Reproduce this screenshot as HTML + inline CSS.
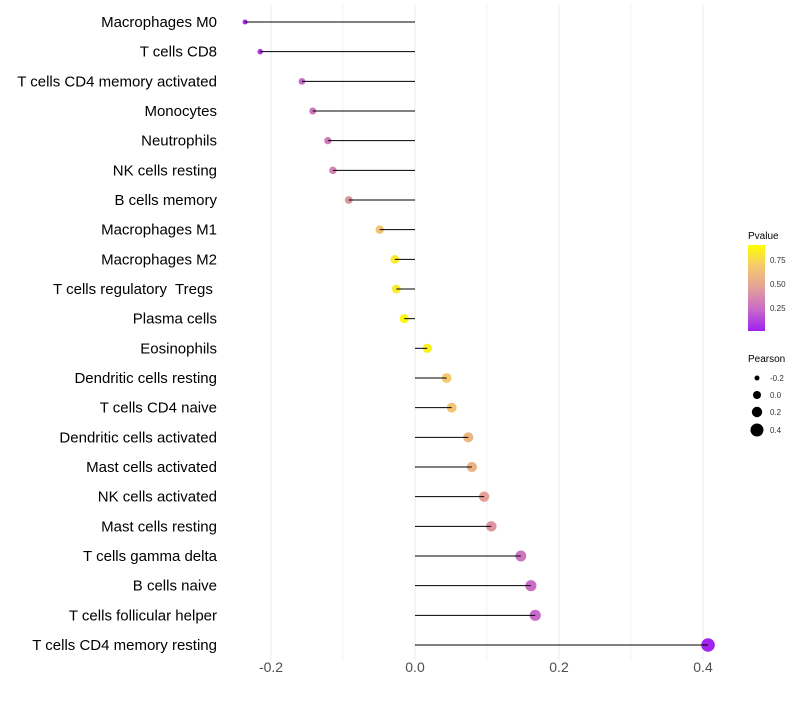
<!DOCTYPE html>
<html><head><meta charset="utf-8"><style>
body{margin:0;background:#fff;font-family:"Liberation Sans",sans-serif}
svg text{font-family:"Liberation Sans",sans-serif;white-space:pre}
</style></head><body>
<svg id="chart" width="800" height="700" xmlns="http://www.w3.org/2000/svg">
<defs><linearGradient id="pg" x1="0" y1="1" x2="0" y2="0">
<stop offset="0" stop-color="#a020f0"/><stop offset="0.25" stop-color="#c86ac8"/><stop offset="0.5" stop-color="#e2a098"/><stop offset="0.75" stop-color="#f4c870"/><stop offset="1" stop-color="#ffff00"/>
</linearGradient></defs>
<g id="grid"></g><g id="points"></g><g id="stems"></g><g id="labels"></g>
<g>
<text x="748" y="239" font-size="10" fill="#000">Pvalue</text>
<rect x="748" y="245" width="17" height="86" fill="url(#pg)"/>
<text x="770" y="263" font-size="8" fill="#333">0.75</text>
<text x="770" y="287" font-size="8" fill="#333">0.50</text>
<text x="770" y="311" font-size="8" fill="#333">0.25</text>
</g>
<g>
<text x="748" y="362" font-size="10" fill="#000">Pearson</text>
<circle cx="757" cy="378" r="2.5"/><text x="770" y="381" font-size="8" fill="#333">-0.2</text>
<circle cx="757" cy="395" r="4"/><text x="770" y="398" font-size="8" fill="#333">0.0</text>
<circle cx="757" cy="412" r="5.2"/><text x="770" y="415" font-size="8" fill="#333">0.2</text>
<circle cx="757" cy="430" r="6.5"/><text x="770" y="433" font-size="8" fill="#333">0.4</text>
</g>
</svg>
<script>
const categories=["Macrophages M0","T cells CD8","T cells CD4 memory activated","Monocytes","Neutrophils","NK cells resting","B cells memory","Macrophages M1","Macrophages M2","T cells regulatory  Tregs ","Plasma cells","Eosinophils","Dendritic cells resting","T cells CD4 naive","Dendritic cells activated","Mast cells activated","NK cells activated","Mast cells resting","T cells gamma delta","B cells naive","T cells follicular helper","T cells CD4 memory resting"];
const pearson=[-0.236,-0.215,-0.157,-0.142,-0.121,-0.114,-0.092,-0.049,-0.028,-0.026,-0.015,0.017,0.044,0.051,0.074,0.079,0.096,0.106,0.147,0.161,0.167,0.407];
const pvalue=[0.02,0.08,0.25,0.3,0.33,0.36,0.45,0.72,0.9,0.9,0.97,0.93,0.76,0.73,0.64,0.62,0.5,0.45,0.3,0.26,0.25,0.01];
const xTicks=[-0.2,0,0.2,0.4];
const xTickLabels=["-0.2","0.0","0.2","0.4"];
const xMinor=[-0.1,0.1,0.3];
const NS="http://www.w3.org/2000/svg";
const x=v=>415+v*720;
const y=i=>22+i*(623/21);
const stops=[[0,[160,32,240]],[0.25,[200,106,200]],[0.5,[226,160,152]],[0.75,[244,200,112]],[1,[255,255,0]]];
function col(p){for(let i=1;i<stops.length;i++){if(p<=stops[i][0]){const a=stops[i-1],b=stops[i],t=(p-a[0])/(b[0]-a[0]);return "rgb("+a[1].map((c,k)=>Math.round(c+(b[1][k]-c)*t)).join(",")+")";}}return "rgb(255,255,0)";}
const rad=v=>Math.sqrt(Math.max(4,21+62*v));
function mk(t,a,p){const e=document.createElementNS(NS,t);for(const k in a)e.setAttribute(k,a[k]);p.appendChild(e);return e;}
const grid=document.getElementById("grid"),pts=document.getElementById("points"),stems=document.getElementById("stems"),labels=document.getElementById("labels");
xTicks.concat(xMinor).forEach(v=>{const l=mk("line",{x1:x(v),x2:x(v),y1:5,y2:660,stroke:"#ebebeb","stroke-width":xTicks.includes(v)?1:0.6},grid);

});
xTicks.forEach((v,i)=>{const t=mk("text",{x:x(v),y:672,"text-anchor":"middle","font-size":14,fill:"#4d4d4d"},labels);t.textContent=xTickLabels[i];

});
categories.forEach((c,i)=>{
const p=mk("circle",{cx:x(pearson[i]),cy:y(i),r:rad(pearson[i]),fill:col(pvalue[i])},pts);


const l=mk("line",{x1:x(0),x2:x(pearson[i]),y1:y(i),y2:y(i),stroke:"#000","stroke-width":1},stems);


const t=mk("text",{x:217,y:y(i)+5,"text-anchor":"end","font-size":15,fill:"#000"},labels);t.textContent=c;


});
</script>
</body></html>
